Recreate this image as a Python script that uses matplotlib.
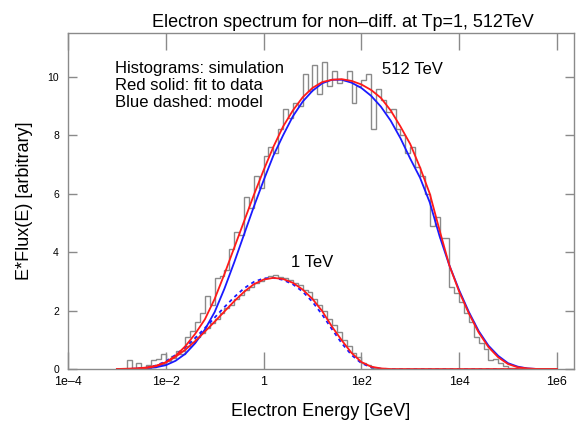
"""
Electron spectrum for non-diffractive pp at Tp = 1 and 512 TeV
"""

import numpy as np
import matplotlib
matplotlib.use("Agg")
import matplotlib.pyplot as plt

plt.rcParams['font.family'] = ['Liberation Sans', 'DejaVu Sans']

# curve grid, log10(E/GeV)
log_e = [-3.0, -2.8, -2.6, -2.4, -2.2, -2.0, -1.8, -1.6, -1.4, -1.2,
         -1.0, -0.8, -0.6, -0.4, -0.2, 0.0, 0.2, 0.4, 0.6, 0.8,
         1.0, 1.2, 1.4, 1.6, 1.8, 2.0, 2.2, 2.4, 2.6, 2.8,
         3.0, 3.2, 3.4, 3.6, 3.8, 4.0, 4.2, 4.4, 4.6, 4.8,
         5.0, 5.2, 5.4, 5.6, 5.8, 6.0]

fit_512 = [0.0, 0.01, 0.02, 0.05, 0.11, 0.23, 0.45, 0.78, 1.2, 1.7,
           2.4, 3.25, 4.15, 5.05, 5.95, 6.8, 7.6, 8.3, 8.85, 9.3,
           9.62, 9.82, 9.9, 9.92, 9.86, 9.74, 9.55, 9.28, 8.85, 8.3,
           7.7, 6.9, 6.0, 4.75, 3.55, 2.65, 1.9, 1.25, 0.75, 0.4,
           0.17, 0.06, 0.02, 0.0, 0.0, 0.0]
model_512 = [0.0, 0.0, 0.01, 0.03, 0.06, 0.13, 0.28, 0.52, 0.88, 1.35,
             1.95, 2.75, 3.65, 4.6, 5.55, 6.45, 7.3, 8.0, 8.65, 9.15,
             9.52, 9.78, 9.9, 9.9, 9.8, 9.62, 9.35, 8.98, 8.5, 7.9,
             7.2, 6.55, 5.7, 4.55, 3.55, 2.7, 1.95, 1.3, 0.8, 0.45,
             0.2, 0.08, 0.02, 0.0, 0.0, 0.0]
fit_1 = [0.0, 0.0, 0.01, 0.03, 0.1, 0.22, 0.42, 0.66, 0.95, 1.28,
         1.62, 1.97, 2.32, 2.64, 2.9, 3.06, 3.12, 3.08, 2.95, 2.72,
         2.4, 1.98, 1.45, 0.98, 0.55, 0.24, 0.08, 0.02, 0.0, 0.0,
         0.0, 0.0, 0.0, 0.0, 0.0, 0.0, 0.0, 0.0, 0.0, 0.0,
         0.0, 0.0, 0.0, 0.0, 0.0, 0.0]
model_1 = [0.0, 0.0, 0.01, 0.04, 0.12, 0.26, 0.48, 0.75, 1.06, 1.4,
           1.76, 2.12, 2.46, 2.76, 2.98, 3.1, 3.12, 3.05, 2.9, 2.65,
           2.3, 1.86, 1.36, 0.88, 0.48, 0.2, 0.06, 0.01, 0.0, 0.0,
           0.0, 0.0, 0.0, 0.0, 0.0, 0.0, 0.0, 0.0, 0.0, 0.0,
           0.0, 0.0, 0.0, 0.0, 0.0, 0.0]

# simulation histograms: bin edges in log10(E/GeV), 0.1 decade wide
edges_512 = [round(-3.0 + 0.1 * i, 1) for i in range(87)]
hist_512 = [0.0, 0.0, 0.3, 0.0, 0.2, 0.05, 0.15, 0.3, 0.35, 0.5,
            0.3, 0.45, 0.6, 0.5, 1.1, 1.3, 1.6, 1.9, 2.5, 2.2,
            3.1, 3.2, 3.4, 4.1, 4.7, 4.6, 5.9, 5.5, 6.6, 6.2,
            7.3, 7.6, 7.4, 8.2, 8.9, 8.6, 9.1, 9.0, 10.1, 9.5,
            10.4, 9.4, 10.5, 9.7, 10.2, 9.8, 9.9, 10.2, 9.1, 9.7,
            9.9, 10.1, 8.2, 9.6, 9.2, 8.8, 8.9, 8.2, 8.0, 7.4,
            7.6, 6.9, 6.6, 6.0, 4.9, 5.2, 4.5, 4.5, 2.8, 2.6,
            2.3, 1.9, 1.6, 1.1, 0.9, 0.7, 0.3, 0.35, 0.2, 0.1,
            0.05, 0.03, 0.0, 0.0, 0.0, 0.0]
edges_1 = [round(-2.6 + 0.1 * i, 1) for i in range(53)]
hist_1 = [0.0, 0.0, 0.05, 0.08, 0.12, 0.18, 0.28, 0.38, 0.5, 0.62,
          0.78, 0.92, 1.1, 1.22, 1.42, 1.58, 1.72, 1.9, 2.08, 2.2,
          2.38, 2.52, 2.7, 2.82, 2.95, 3.02, 3.1, 3.18, 3.22, 3.15,
          3.12, 3.06, 2.95, 2.88, 2.7, 2.62, 2.4, 2.2, 2.0, 1.72,
          1.5, 1.25, 1.0, 0.8, 0.55, 0.4, 0.22, 0.12, 0.05, 0.02,
          0.0, 0.0]

x_ticks = [1e-4, 1e-2, 1, 1e2, 1e4, 1e6]
x_tick_labels = ['1e\u20134', '1e\u20132', '1', '1e2', '1e4', '1e6']
y_ticks = [0, 2, 4, 6, 8, 10]

W, H = 577, 428
fig = plt.figure(figsize=(W / 100, H / 100), dpi=100)
ax = fig.add_axes([68 / W, (H - 369) / H, (574 - 68) / W, (369 - 33) / H])

grid = 10.0 ** np.array(log_e)
gray, red, blue = '#8a8a8a', '#ff1a1a', '#1a1aff'

ax.stairs(hist_512, 10.0 ** np.array(edges_512), color=gray, lw=1.0)
ax.stairs(hist_1, 10.0 ** np.array(edges_1), color=gray, lw=1.0)
ax.plot(grid, model_512, color=blue, lw=1.3)
ax.plot(grid, model_1, color=blue, lw=1.3, ls=(0, (2, 2)))
ax.plot(grid, fit_512, color=red, lw=1.3)
ax.plot(grid, fit_1, color=red, lw=1.3)

ax.set_xscale('log')
ax.set_xlim(1e-4, 10 ** 6.35)
ax.set_ylim(0, 11.5)
ax.set_xticks(x_ticks)
ax.set_xticklabels(x_tick_labels)
ax.xaxis.set_minor_locator(matplotlib.ticker.NullLocator())
ax.set_yticks(y_ticks)

ax.tick_params(axis='x', direction='in', length=12, width=1, color=gray,
               top=True, labelsize=9, pad=5)
ax.tick_params(axis='y', direction='in', length=6.5, width=1, color=gray,
               right=True, labelsize=7.5, pad=6.5)
for s in ax.spines.values():
    s.set_color(gray)
    s.set_linewidth(1.0)

ax.text(9e-4, 10.27, 'Histograms: simulation', fontsize=12, va='center')
ax.text(9e-4, 9.70, 'Red solid: fit to data', fontsize=12, va='center')
ax.text(9e-4, 9.13, 'Blue dashed: model', fontsize=12, va='center')
ax.text(270, 10.24, '512 TeV', fontsize=12, va='center')
ax.text(3.7, 3.63, '1 TeV', fontsize=12, va='center')

fig.text(343 / W, 1 - 27 / H, 'Electron spectrum for non\u2013diff. at Tp=1, 512TeV',
         fontsize=13, ha='center', va='baseline')
fig.text(321 / W, 1 - 411 / H, 'Electron Energy [GeV]', fontsize=13,
         ha='center', va='center')
fig.text(25 / W, 1 - 201 / H, 'E*Flux(E) [arbitrary]', fontsize=13,
         rotation=90, ha='center', va='center')

fig.savefig('out.png', dpi=100)
